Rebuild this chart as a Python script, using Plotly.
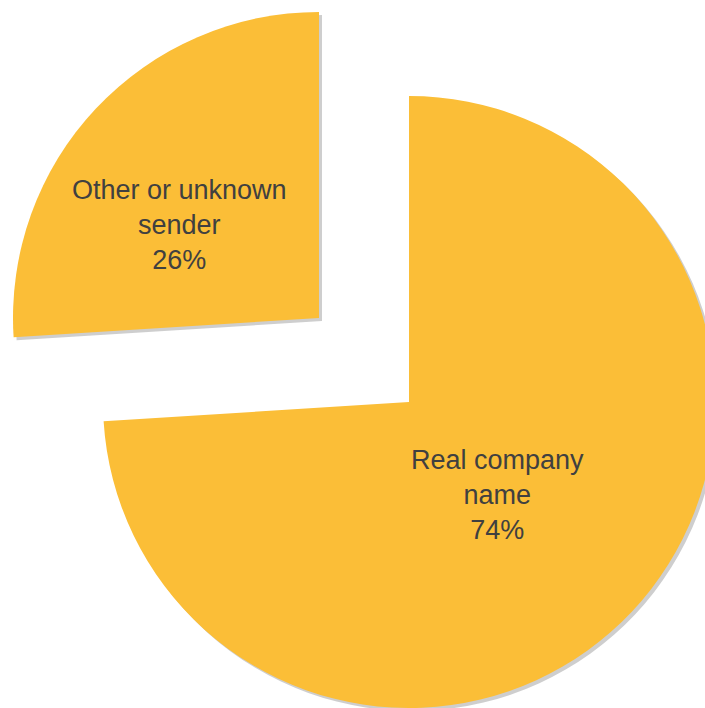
import plotly.graph_objects as go

# Sender shown on the message
labels = ["Real company name", "Other or unknown sender"]
label_lines = [["Real company", "name"], ["Other or unknown", "sender"]]
values = [74, 26]

W, H = 720, 720
FILL = "#FBBE37"
SHADOW = "rgba(105,105,105,0.33)"
R = 306  # slice radius in px


def pie_domain(cx, cy, r):
    """Domain box (paper units) that puts a pie centre at pixel (cx, cy)."""
    return dict(x=[(cx - r) / W, (cx + r) / W],
                y=[1 - (cy + r) / H, 1 - (cy - r) / H])


# pixel centres: main body, and the exploded slice
centres = [(409, 402), (319, 318)]
label_pos = [(497, 495), (179, 225)]

fig = go.Figure()

total = sum(values)
for shadow in (True, False):
    for i, (cx, cy) in enumerate(centres):
        off = 3 if shadow else 0
        colors = ["rgba(0,0,0,0)"] * len(values)
        colors[i] = SHADOW if shadow else FILL
        fig.add_trace(go.Pie(
            labels=labels,
            values=values,
            sort=False,
            direction="clockwise",
            rotation=0,
            marker=dict(colors=colors, line=dict(width=0)),
            textinfo="none",
            hoverinfo="skip" if shadow else "label+percent",
            showlegend=False,
            domain=pie_domain(cx + off, cy + off, R),
        ))

for i, (px, py) in enumerate(label_pos):
    pct = round(values[i] / total * 100)
    text = "<br>".join(label_lines[i] + [f"{pct}%"])
    fig.add_annotation(
        x=px / W, y=1 - py / H, xref="paper", yref="paper",
        text=text, showarrow=False, xanchor="center", yanchor="middle",
        align="center",
        font=dict(family="Liberation Sans, Arial, sans-serif", size=27, color="#404040"),
    )

fig.update_layout(
    width=W, height=H,
    margin=dict(l=0, r=0, t=0, b=0),
    paper_bgcolor="white",
    plot_bgcolor="white",
    showlegend=False,
)

fig.write_html(
    "out.html",
    config={"displayModeBar": False},
    post_script="document.documentElement.style.overflow='hidden';document.body.style.overflow='hidden';",
)
